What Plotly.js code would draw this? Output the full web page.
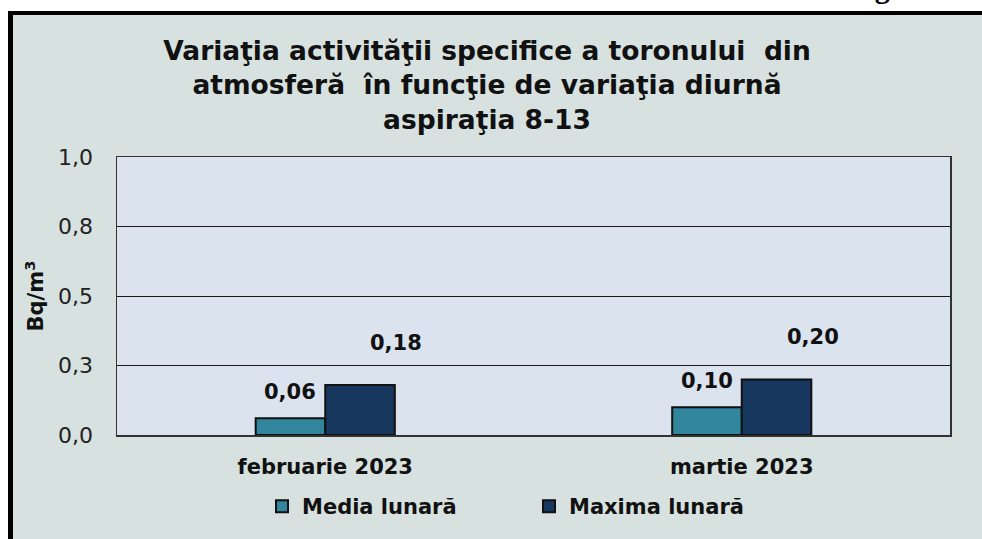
<!DOCTYPE html>
<html>
<head>
<meta charset="utf-8">
<script src="https://cdn.plot.ly/plotly-3.0.1.min.js"></script>
<style>
  html, body { margin: 0; padding: 0; background: #ffffff; }
  #chart { width: 982px; height: 539px; }
</style>
</head>
<body>
<div id="chart"></div>
<script>
// ---- data ----
const categories = ['februarie 2023', 'martie 2023'];
const mediaLunara = [0.06, 0.10];
const maximaLunara = [0.18, 0.20];
const seriesNames = ['Media lunară', 'Maxima lunară'];
const yTickVals = [0, 0.25, 0.5, 0.75, 1.0];
const yTickText = ['0,0', '0,3', '0,5', '0,8', '1,0'];
const titleLines = ['Variaţia activităţii specifice a toronului  din', 'atmosferă  în funcţie de variaţia diurnă', 'aspiraţia 8-13'];
const cornerText = 'Fig. 6';

// ---- layout geometry ----
const W = 982, H = 539;
const M = { l: 117, r: 32, t: 157, b: 102 };
const plotW = W - M.l - M.r, plotH = H - M.t - M.b;
const bargap = 0.666;
const barPx = plotW / categories.length * (1 - bargap) / 2;
const px2x = px => (px - M.l) / plotW;
const py2y = py => (H - M.b - py) / plotH;

const FONT = 'DejaVu Sans';
const fmt = v => v.toFixed(2).replace('.', ',');

const traces = [
  {
    type: 'bar', name: seriesNames[0], x: categories, y: mediaLunara,
    marker: { color: '#31859c', line: { color: '#111111', width: 2 } },
    hoverinfo: 'skip'
  },
  {
    type: 'bar', name: seriesNames[1], x: categories, y: maximaLunara,
    marker: { color: '#17375e', line: { color: '#111111', width: 2 } },
    hoverinfo: 'skip'
  }
];

const labelFont = { family: FONT, size: 21, color: '#111111', weight: 'bold' };
const annotations = [];
categories.forEach((c, i) => {
  annotations.push({
    x: c, y: mediaLunara[i], xref: 'x', yref: 'y', text: fmt(mediaLunara[i]),
    showarrow: false, xanchor: 'center', yanchor: 'bottom',
    xshift: -barPx / 2, yshift: 12, font: labelFont
  });
  annotations.push({
    x: c, y: maximaLunara[i], xref: 'x', yref: 'y', text: fmt(maximaLunara[i]),
    showarrow: false, xanchor: 'center', yanchor: 'bottom',
    xshift: barPx / 2 + 36, yshift: 28, font: labelFont
  });
});
annotations.push({
  xref: 'paper', yref: 'paper', x: px2x(846), y: py2y(5),
  xanchor: 'left', yanchor: 'bottom', showarrow: false, text: cornerText,
  font: { family: 'Liberation Serif', size: 30, color: '#000000', weight: 'bold' }
});

const shapes = [
  // white outer margin
  { type: 'rect', xref: 'paper', yref: 'paper', x0: px2x(-5), x1: px2x(8), y0: py2y(H + 5), y1: py2y(-5), fillcolor: '#ffffff', line: { width: 0 }, layer: 'above' },
  { type: 'rect', xref: 'paper', yref: 'paper', x0: px2x(-5), x1: px2x(W + 5), y0: py2y(10), y1: py2y(-5), fillcolor: '#ffffff', line: { width: 0 }, layer: 'above' },
  // black frame
  { type: 'rect', xref: 'paper', yref: 'paper', x0: px2x(8), x1: px2x(13), y0: py2y(H + 5), y1: py2y(10), fillcolor: '#000000', line: { width: 0 }, layer: 'above' },
  { type: 'rect', xref: 'paper', yref: 'paper', x0: px2x(8), x1: px2x(W + 5), y0: py2y(14), y1: py2y(10), fillcolor: '#000000', line: { width: 0 }, layer: 'above' }
];

const layout = {
  width: W, height: H,
  margin: M,
  paper_bgcolor: '#d7e1e0',
  plot_bgcolor: '#dbe3ef',
  barmode: 'group',
  bargap: bargap,
  bargroupgap: 0,
  showlegend: true,
  hovermode: false,
  title: {
    text: titleLines.join('<br>'),
    xref: 'container', yref: 'container',
    x: 487 / W, xanchor: 'center',
    y: 1 - 60 / H, yanchor: 'top',
    font: { family: FONT, size: 26.5, color: '#111111', weight: 'bold' }
  },
  xaxis: {
    type: 'category',
    showgrid: false, zeroline: false,
    showline: true, mirror: true, linecolor: '#333333', linewidth: 1.5,
    ticks: '', ticklabelstandoff: 12,
    tickfont: { family: FONT, size: 21, color: '#111111', weight: 'bold' }
  },
  yaxis: {
    range: [0, 1],
    tickmode: 'array', tickvals: yTickVals, ticktext: yTickText,
    showgrid: true, gridcolor: '#1a1a1a', gridwidth: 1,
    zeroline: false,
    showline: true, mirror: true, linecolor: '#333333', linewidth: 1.5,
    ticks: '', ticklabelstandoff: 18,
    tickfont: { family: FONT, size: 22, color: '#222222' },
    title: {
      text: 'Bq/m<sup>3</sup>', standoff: 8,
      font: { family: FONT, size: 21, color: '#111111', weight: 'bold' }
    }
  },
  legend: {
    orientation: 'h',
    xref: 'paper', yref: 'paper',
    x: px2x(262), xanchor: 'left',
    y: py2y(509), yanchor: 'middle',
    bgcolor: 'rgba(0,0,0,0)',
    entrywidth: 222,
    font: { family: FONT, size: 21, color: '#111111', weight: 'bold' },
    traceorder: 'normal'
  },
  annotations: annotations,
  shapes: shapes
};

Plotly.newPlot('chart', traces, layout, { displayModeBar: false, staticPlot: true });
</script>
</body>
</html>
